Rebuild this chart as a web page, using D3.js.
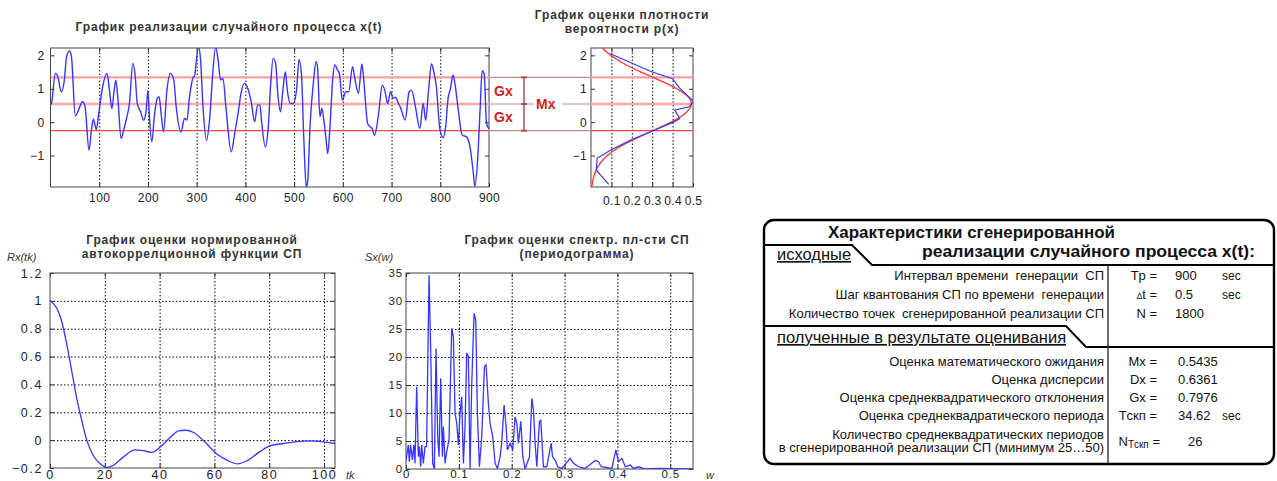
<!DOCTYPE html>
<html>
<head>
<meta charset="utf-8">
<script src="https://d3js.org/d3.v7.min.js"></script>
<style>
    body { margin: 0; background: #fff; }
    svg text { font-family: Arial, "Liberation Sans", sans-serif; }
    .ttl { font-weight: bold; font-size: 12px; fill: #333; letter-spacing: 0.85px; }
    .tbl { fill: #111; white-space: pre; }
</style>
</head>
<body>
<svg id="fig" width="1277" height="481"></svg>
<script>
// ---- data ----
// realisation x(t), local extrema
const procT = [0, 2, 10, 15, 22, 28, 33, 39, 43, 51, 56, 66, 71, 79, 84, 88, 94, 99, 107, 116, 121, 126, 130, 134, 138,
    145, 150, 156, 162, 169, 174, 178, 185, 191, 196, 200, 203, 208, 213, 219, 223, 227, 232, 239, 246, 253, 258, 268,
    275, 280, 285, 292, 296, 299, 304, 308, 313, 320, 327, 333, 339, 344, 349, 354, 360, 371, 378, 385, 391, 398, 405,
    412, 419, 425, 430, 433, 441, 447, 452, 457, 462, 467, 472, 477, 482, 486, 492, 498, 505, 510, 515, 520, 525, 528,
    533, 540, 545, 548, 553, 557, 561, 565, 569, 574, 579, 584, 589, 593, 599, 606, 612, 620, 624, 632, 639, 642, 651,
    656, 660, 665, 673, 681, 686, 692, 698, 703, 708, 713, 718, 728, 736, 741, 749, 758, 765, 770, 776, 782, 786, 792,
    799, 806, 811, 816, 821, 826, 830, 837, 845, 854, 861, 868, 871, 877, 882, 886, 890, 895, 900];
const procX = [0.52, 0.56, 1.46, 1.36, 0.91, 1.21, 1.96, 2.13, 1.96, 0.18, 0.31, 0.61, 0.46, -0.84, -0.24, 0.09, -0.22,
    0.26, 1.06, 1.46, 0.96, 0.41, 0.86, 1.26, 0.76, -0.49, -0.24, 0.11, 0.56, 1.76, 1.36, 0.56, 0.31, 0.06, 0.31, 0.96,
    0.16, -0.59, 0.16, 0.71, 0.76, 0.26, -0.29, 0.96, 1.46, 1.26, 0.46, -0.29, 0.11, 0.06, 0.71, 1.31, 1.4, 1.8, 2.25,
    1.86, 0.46, -0.54, 0.16, 1.46, 2.25, 1.86, 1.26, 1.31, 0.46, -0.89, -0.34, 0.26, 0.86, 1.16, 1.01, 0.61, 0.01, 0.51,
    0.51, 0.06, -0.74, -0.14, 1.16, 1.91, 1.76, 0.76, 0.31, 0.96, 1.51, 0.96, 0.56, 0.56, 0.96, 1.88, 1.46, -0.54, -1.96,
    -1.74, -0.04, 1.26, 1.81, 1.66, 0.16, 0.41, 0.06, -0.44, -0.94, -0.04, 1.26, 1.71, 1.56, 1.45, 0.66, 0.91, 0.91, 1.66,
    1.36, 0.86, 1.74, 1.41, -0.04, -0.14, -0.19, -0.39, 0.21, 1.11, 0.96, 0.56, 0.91, 0.71, 0.75, 0.6, 0.45, 0.06, 0.91,
    0.96, 0.46, -0.19, 0.56, 0.06, 0.96, 1.74, 1.56, 1.06, -0.19, -0.46, -0.14, 0.71, 1.01, 1.41, 1.16, 0.36, -0.39, -0.44,
    -0.74, -1.54, -1.92, -1.04, 0.46, 1.54, 1.46, -0.04, -0.2];

// density estimate (blue) and normal curve (red): level x, density p
const histX = [2.05, 1.5, 1.3, 1.05, 0.61, 0.46, 0.36, 0.11, 0.01, -0.24, -0.52, -0.84, -1.08, -1.43, -1.58, -1.86];
const histP = [0.095, 0.30, 0.40, 0.43, 0.505, 0.48, 0.41, 0.435, 0.407, 0.31, 0.20, 0.095, 0.03, 0.026, 0.046, 0.087];
const normX = [2.22, 2.0, 1.75, 1.5, 1.25, 1.0, 0.75, 0.54, 0.25, 0.0, -0.25, -0.5, -0.75, -1.0, -1.25, -1.5, -1.75, -1.94];
const normP = [0.055, 0.094, 0.159, 0.244, 0.338, 0.425, 0.484, 0.500, 0.467, 0.397, 0.305, 0.213, 0.134, 0.077, 0.040,
    0.019, 0.008, 0.004];

// normalised autocorrelation
const acfLag = [0, 2.4, 4.3, 6.1, 7.9, 9.75, 11.6, 13.4, 15.8, 18.3, 20.7, 23.2, 26.8, 31, 34.1, 37.2, 40.2, 43.9, 46.9,
    49.4, 52.4, 56.7, 60.9, 65.2, 68.5, 71.9, 76.2, 80.4, 85.3, 90.2, 95.1, 98.7, 104];
const acfVal = [1, 0.95, 0.85, 0.69, 0.50, 0.30, 0.14, 0, -0.11, -0.17, -0.195, -0.18, -0.12, -0.07, -0.076, -0.088, -0.05,
    0.02, 0.067, 0.071, 0.055, -0.017, -0.1, -0.15, -0.17, -0.148, -0.088, -0.04, -0.024, -0.01, -0.005, -0.01, -0.024];

// periodogram
const psdF = [0, 0.0044, 0.0063, 0.0088, 0.012, 0.015, 0.017, 0.0202, 0.0234, 0.0253, 0.0278, 0.0297, 0.0328, 0.036,
    0.039, 0.0436, 0.0467, 0.0505, 0.0537, 0.0568, 0.06, 0.0625, 0.0657, 0.0688, 0.0707, 0.0739, 0.077, 0.0814, 0.0865,
    0.0896, 0.0928, 0.096, 0.0991, 0.1023, 0.1054, 0.1086, 0.1117, 0.1149, 0.118, 0.1212, 0.1244, 0.1288, 0.132, 0.1351,
    0.1389, 0.1433, 0.1484, 0.1515, 0.1559, 0.159, 0.1641, 0.1686, 0.173, 0.178, 0.181, 0.1856, 0.1894, 0.1919, 0.197,
    0.202, 0.2064, 0.2096, 0.2127, 0.2172, 0.221, 0.2254, 0.2336, 0.238, 0.2412, 0.2443, 0.2475, 0.2525, 0.255, 0.26,
    0.2664, 0.2746, 0.2772, 0.2822, 0.2872, 0.295, 0.3106, 0.317, 0.3264, 0.339, 0.3579, 0.3643, 0.3693, 0.3895, 0.397,
    0.402, 0.4085, 0.4148, 0.4242, 0.4306, 0.44, 0.4527, 0.478, 0.543];
const psdS = [1.5, 4.3, 1.3, 4.3, 1.6, 4.3, 1.0, 14.7, 2.2, 4.0, 0.4, 4.3, 1.0, 4.0, 4.0, 34.6, 21.2, 1.0, 0, 21.5, 5.8,
    2.2, 16.2, 2.2, 7.6, 1.0, 3.1, 5.2, 25.1, 23.6, 9.9, 8.2, 4.3, 9.9, 12.9, 1.0, 7.6, 20.7, 20.1, 0, 15.3, 27.8, 26.6,
    9.9, 0.4, 5.8, 18.3, 18.6, 11.7, 8.2, 5.8, 1.0, 0.1, 2.2, 4.6, 11.4, 7.6, 3.4, 4.6, 3.4, 9.3, 8.2, 4.6, 8.5, 2.2, 0,
    2.2, 12.6, 10.5, 4.6, 0.4, 8.5, 8.7, 0.4, 0.4, 4.6, 2.2, 1.6, 0.4, 0.1, 1.9, 1.0, 0.4, 0.1, 1.5, 1.3, 0.4, 0.1, 3.4,
    1.3, 1.9, 0.4, 0.7, 0.1, 0.4, 0, 0.1, 0];

const mx = 0.5435, gx = 0.7976;

// table texts
const inLabels = ['Интервал времени  генерации  СП', 'Шаг квантования СП по времени  генерации',
    'Количество точек  сгенерированной реализации СП'];
const inSyms = ['Tp =', 't =', 'N ='];
const inVals = ['900', '0.5', '1800'];
const inUnits = ['sec', 'sec', ''];
const outLabels = ['Оценка математического ожидания', 'Оценка дисперсии', 'Оценка среднеквадратического отклонения',
    'Оценка среднеквадратического периода'];
const outSyms = ['Mx =', 'Dx =', 'Gx =', 'Tскп ='];
const outVals = ['0.5435', '0.6361', '0.7976', '34.62'];
const outUnits = ['', '', '', 'sec'];
const lastLabel = ['Количество среднеквадратических периодов', 'в сгенерированной реализации СП (минимум 25…50)'];
const lastVal = '26';

// ---- drawing ----
const svg = d3.select('#fig');

const xT = d3.scaleLinear().domain([0, 900]).range([50.5, 489]);
const yX = d3.scaleLinear().domain([-1.94, 2.22]).range([187, 48]);
const xP = d3.scaleLinear().domain([0, 0.5]).range([591, 693]);
const xL = d3.scaleLinear().domain([0, 104]).range([50, 335]);
const yR = d3.scaleLinear().domain([-0.2, 1.2]).range([468, 273]);
const xF = d3.scaleLinear().domain([0, 0.543]).range([406, 693]);
const yS = d3.scaleLinear().domain([0, 35]).range([469, 273]);

let clipN = 0;
function frame(x, y, o) {
    const g = svg.append('g');
    const [l, r] = x.range(), [b, t] = y.range();
    const dotted = s => {
        s.select('.domain').remove();
        s.selectAll('line').attr('stroke', '#000').attr('stroke-width', 1).attr('stroke-dasharray', '1.5,2');
    };
    if (o.xGrid) g.append('g').attr('transform', `translate(0,${b})`)
        .call(d3.axisBottom(x).tickValues(o.xGrid).tickSize(-(b - t)).tickFormat(''))
        .call(dotted);
    if (o.yGrid) g.append('g').attr('transform', `translate(${l},0)`)
        .call(d3.axisLeft(y).tickValues(o.yGrid).tickSize(-(r - l)).tickFormat(''))
        .call(dotted);

    const style = s => {
        s.select('.domain').remove();
        s.selectAll('line').attr('stroke', '#333');
        s.selectAll('text').attr('fill', '#222').attr('font-size', o.fs)
            .attr('font-family', 'Arial, "Liberation Sans", sans-serif')
            .style('letter-spacing', o.ls + 'px');
    };
    g.append('g').attr('transform', `translate(0,${b})`)
        .call(d3.axisBottom(x).tickValues(o.xTicks).tickSize(-4).tickPadding(o.xPad).tickFormat(o.xFmt))
        .call(style);
    g.append('g').attr('transform', `translate(0,${t})`)
        .call(d3.axisTop(x).tickValues(o.xTicks).tickSize(-4).tickFormat(''))
        .call(style);
    g.append('g').attr('transform', `translate(${l},0)`)
        .call(d3.axisLeft(y).tickValues(o.yTicks).tickSize(-4).tickPadding(o.yPad).tickFormat(o.yFmt))
        .call(style);
    g.append('g').attr('transform', `translate(${r},0)`)
        .call(d3.axisRight(y).tickValues(o.yTicks).tickSize(-4).tickFormat(''))
        .call(style);

    g.append('rect').attr('x', l).attr('y', t).attr('width', r - l).attr('height', b - t)
        .attr('fill', 'none').attr('stroke', '#444').attr('stroke-width', 1);

    const id = 'clip' + (clipN++);
    svg.append('clipPath').attr('id', id).append('rect')
        .attr('x', l).attr('y', t).attr('width', r - l).attr('height', b - t);
    return svg.append('g').attr('clip-path', `url(#${id})`);
}

function title(lines, cx, y0, lh) {
    lines.forEach((s, i) => svg.append('text').attr('class', 'ttl')
        .attr('x', cx).attr('y', y0 + i * lh).attr('text-anchor', 'middle').text(s));
}

const blue = '#3535ff';

// red level lines: Mx+Gx, Mx, Mx-Gx
const levels = [mx + gx, mx, mx - gx];
const lvlCol = ['#ff9c9c', '#ffa8a8', '#ff4545'];
const lvlW = [2.4, 2.4, 1.3];

// top: realisation
const gTop = frame(xT, yX, {
    xTicks: d3.range(100, 901, 100), yTicks: [-1, 0, 1, 2], xGrid: d3.range(100, 900, 100),
    xFmt: d3.format('d'), yFmt: d3.format('d'), fs: 12, ls: 0.4, xPad: 6, yPad: 6
});
levels.forEach((v, i) => gTop.append('line').attr('x1', xT(0)).attr('x2', xT(900))
    .attr('y1', yX(v)).attr('y2', yX(v)).attr('stroke', lvlCol[i]).attr('stroke-width', lvlW[i]));
gTop.append('path').datum(procT.map((t, i) => [t, procX[i]]))
    .attr('fill', 'none').attr('stroke', blue).attr('stroke-width', 1.4)
    .attr('d', d3.line().x(d => xT(d[0])).y(d => yX(d[1])).curve(d3.curveMonotoneX));
title(['График реализации случайного процесса x(t)'], 229, 31, 0);

// density
const gDen = frame(xP, yX, {
    xTicks: [0.1, 0.2, 0.3, 0.4, 0.5], yTicks: [-1, 0, 1, 2], xGrid: [0.1, 0.2, 0.3, 0.4],
    xFmt: d3.format('.1f'), yFmt: d3.format('d'), fs: 12, ls: 0.3, xPad: 9, yPad: 4
});
levels.forEach((v, i) => gDen.append('line').attr('x1', xP(0)).attr('x2', xP(0.5))
    .attr('y1', yX(v)).attr('y2', yX(v)).attr('stroke', lvlCol[i]).attr('stroke-width', lvlW[i]));
gDen.append('path').datum(normX.map((v, i) => [normP[i], v]))
    .attr('fill', 'none').attr('stroke', '#ff3030').attr('stroke-width', 1.3)
    .attr('d', d3.line().x(d => xP(d[0])).y(d => yX(d[1])).curve(d3.curveBasis));
gDen.append('path').datum(histX.map((v, i) => [histP[i], v]))
    .attr('fill', 'none').attr('stroke', blue).attr('stroke-width', 1.2)
    .attr('d', d3.line().x(d => xP(d[0])).y(d => yX(d[1])));
title(['График оценки плотности', 'вероятности p(x)'], 622, 19, 14);

// annotation between the two upper plots
const ann = svg.append('g');
levels.forEach(v => ann.append('line').attr('x1', xT(900)).attr('x2', xP(0))
    .attr('y1', yX(v)).attr('y2', yX(v)).attr('stroke', '#b89090').attr('stroke-width', 1.2));
const xa = 524;
ann.append('line').attr('x1', xa).attr('x2', xa).attr('y1', yX(levels[0])).attr('y2', yX(levels[2]))
    .attr('stroke', '#a85050').attr('stroke-width', 1.5);
levels.forEach(v => ann.append('path')
    .attr('d', `M${xa - 3},${yX(v)}L${xa + 3},${yX(v)}`).attr('stroke', '#a85050').attr('stroke-width', 2));
ann.append('rect').attr('x', 534).attr('y', yX(mx) - 8).attr('width', 28).attr('height', 16).attr('fill', '#fff');
const annTxt = (s, x, v) => ann.append('text').attr('x', x).attr('y', yX(v) + 5)
    .attr('fill', '#d42020').attr('font-weight', 'bold').attr('font-size', 14).text(s);
annTxt('Gx', 494, (levels[0] + levels[1]) / 2);
annTxt('Gx', 494, (levels[1] + levels[2]) / 2);
annTxt('Mx', 536, mx);

// autocorrelation
const gAcf = frame(xL, yR, {
    xTicks: d3.range(0, 101, 20), yTicks: d3.range(-0.2, 1.21, 0.2).map(v => +v.toFixed(1)),
    xGrid: d3.range(20, 101, 20), yGrid: d3.range(0, 1.01, 0.2).map(v => +v.toFixed(1)),
    xFmt: d3.format('d'), yFmt: d => d3.format('')(d), fs: 12.5, ls: 1.6, xPad: 2, yPad: 7
});
gAcf.append('path').datum(acfLag.map((t, i) => [t, acfVal[i]]))
    .attr('fill', 'none').attr('stroke', blue).attr('stroke-width', 1.3)
    .attr('d', d3.line().x(d => xL(d[0])).y(d => yR(d[1])).curve(d3.curveMonotoneX));
title(['График оценки нормированной', 'автокоррелционной функции СП'], 192, 244, 14);
svg.append('text').attr('x', 7).attr('y', 261).attr('font-size', 11).attr('font-style', 'italic')
    .attr('fill', '#333').text('Rx(tk)');
svg.append('text').attr('x', 346).attr('y', 479).attr('font-size', 11).attr('font-style', 'italic')
    .attr('fill', '#333').text('tk');

// periodogram
const gPsd = frame(xF, yS, {
    xTicks: [0, 0.1, 0.2, 0.3, 0.4, 0.5], yTicks: d3.range(0, 36, 5),
    xGrid: [0.1, 0.2, 0.3, 0.4, 0.5], yGrid: d3.range(5, 35, 5),
    xFmt: d => d3.format('')(d), yFmt: d3.format('d'), fs: 11.5, ls: 0.8, xPad: 1, yPad: 3
});
gPsd.append('path').datum(psdF.map((f, i) => [f, psdS[i]]))
    .attr('fill', 'none').attr('stroke', blue).attr('stroke-width', 1.3)
    .attr('d', d3.line().x(d => xF(d[0])).y(d => yS(d[1])));
title(['График оценки спектр. пл-сти СП', '(периодограмма)'], 577, 244, 14);
svg.append('text').attr('x', 365).attr('y', 261).attr('font-size', 11).attr('font-style', 'italic')
    .attr('fill', '#333').text('Sx(w)');
svg.append('text').attr('x', 706).attr('y', 479).attr('font-size', 11).attr('font-style', 'italic')
    .attr('fill', '#333').text('w');

// ---- table of characteristics ----
const tb = svg.append('g');
tb.append('rect').attr('x', 764).attr('y', 220).attr('width', 510).attr('height', 244).attr('rx', 10)
    .attr('fill', 'none').attr('stroke', '#000').attr('stroke-width', 2.4);
tb.append('path').attr('d', 'M764,245H852L872,265H1274').attr('fill', 'none').attr('stroke', '#000').attr('stroke-width', 2);
tb.append('path').attr('d', 'M764,326H1066L1086,347H1274').attr('fill', 'none').attr('stroke', '#000').attr('stroke-width', 2);
tb.append('line').attr('x1', 1108).attr('x2', 1108).attr('y1', 265).attr('y2', 463)
    .attr('stroke', '#222').attr('stroke-width', 1.3);

const tt = (s, x, y, anchor, fs, extra) => {
    const t = tb.append('text').attr('class', 'tbl').attr('x', x).attr('y', y)
        .attr('text-anchor', anchor || 'start').style('font-size', (fs || 13) + 'px').text(s);
    if (extra) extra(t);
    return t;
};
tt('Характеристики сгенерированной', 828, 238, 'start', 16,
    t => t.attr('font-weight', 'bold').attr('textLength', 287).attr('lengthAdjust', 'spacingAndGlyphs'));
tt('реализации случайного процесса x(t):', 922, 257, 'start', 16,
    t => t.attr('font-weight', 'bold').attr('textLength', 333).attr('lengthAdjust', 'spacingAndGlyphs'));
tt('исходные', 777, 260, 'start', 16.5, t => t.attr('text-decoration', 'underline'));
tt('полученные в результате оценивания', 777, 343, 'start', 16.5, t => t.attr('text-decoration', 'underline'));

const inY = [280, 299, 318];
inLabels.forEach((s, i) => {
    tt(s, 1104, inY[i], 'end');
    const sym = tt(inSyms[i], 1157, inY[i], 'end');
    if (i === 1) sym.text('').call(t => {
        t.append('tspan').style('font-size', '9px').text('∆');
        t.append('tspan').text(inSyms[i]);
    });
    tt(inVals[i], 1175, inY[i]);
    tt(inUnits[i], 1222, inY[i], 'start', 12);
});
const outY = [366, 384, 402, 420];
outLabels.forEach((s, i) => {
    tt(s, 1104, outY[i], 'end');
    tt(outSyms[i], 1157, outY[i], 'end');
    tt(outVals[i], 1178, outY[i]);
    tt(outUnits[i], 1222, outY[i], 'start', 12);
});
tt(lastLabel[0], 1104, 439, 'end');
tt(lastLabel[1], 1104, 452, 'end');
tt('', 1160, 446, 'end', 13, t => {
    t.append('tspan').text('N');
    t.append('tspan').style('font-size', '10px').attr('dy', 2).text('Tскп');
    t.append('tspan').attr('dy', -2).text(' =');
});
tt(lastVal, 1188, 446);
</script>
</body>
</html>
